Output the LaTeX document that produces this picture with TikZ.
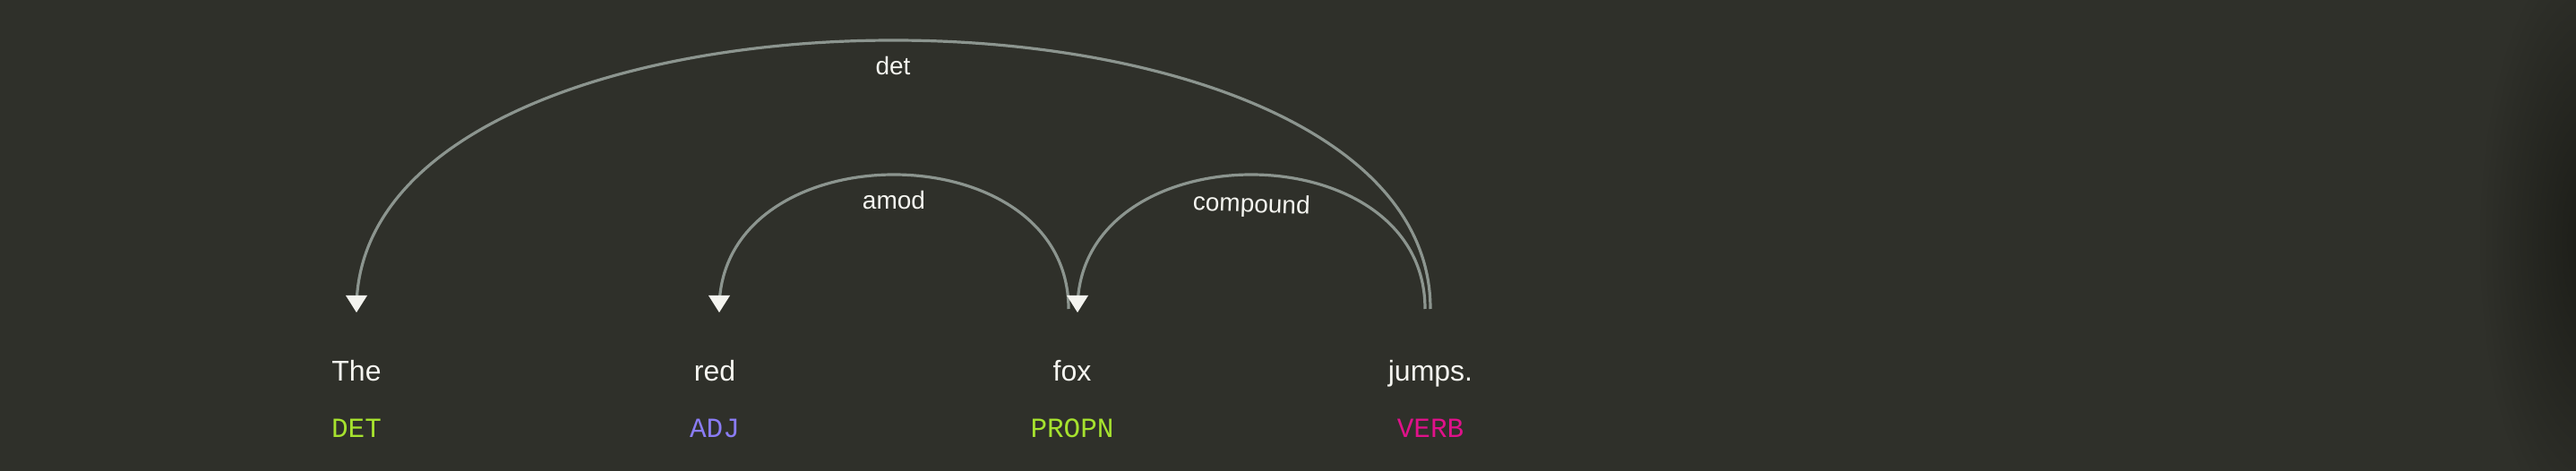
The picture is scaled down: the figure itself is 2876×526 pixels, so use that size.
\documentclass[tikz,border=0pt]{standalone}
\usepackage{fontspec}
\setmainfont{Liberation Sans}
\newfontfamily\tagfont{Liberation Mono}
\definecolor{bgcol}{HTML}{2F302A}
\definecolor{shadowcol}{HTML}{1B1C17}
\definecolor{arccol}{HTML}{8C958F}
\definecolor{headcol}{HTML}{F4F4EF}
\definecolor{wordcol}{HTML}{F5F5F0}
\definecolor{greencol}{HTML}{A6E22E}
\definecolor{purplecol}{HTML}{8A7CF4}
\definecolor{magentacol}{HTML}{E0118A}
\begin{document}
\begin{tikzpicture}[x=1pt,y=-1pt,
  wordtxt/.style={font=\fontsize{32}{38}\selectfont, text=wordcol, anchor=base, inner sep=0pt},
  tagtxt/.style={font=\tagfont\fontsize{31}{37}\selectfont, anchor=base, inner sep=0pt},
  arcline/.style={draw=arccol, line width=3.2pt},
  arrowhd/.style={fill=headcol},
  lbl/.style={font=\fontsize{28}{34}\selectfont, text=wordcol, anchor=base, inner sep=0pt}]
\fill[bgcol] (0,0) rectangle (2876,526);
\begin{scope}
  \clip (0,0) rectangle (2876,526);
  \shade[inner color=shadowcol, outer color=bgcol] (2895,270) ellipse [x radius=130, y radius=340];
\end{scope}
\useasboundingbox (0,0) rectangle (2876,526);

% words
\node[wordtxt] (w0) at (398,426) {The};
\node[wordtxt] (w1) at (798,426) {red};
\node[wordtxt] (w2) at (1197,426) {fox};
\node[wordtxt] (w3) at (1597,426) {jumps.};
% tags
\node[tagtxt, text=greencol] (t0) at (398,488) {DET};
\node[tagtxt, text=purplecol] (t1) at (798,488) {ADJ};
\node[tagtxt, text=greencol] (t2) at (1197,488) {PROPN};
\node[tagtxt, text=magentacol] (t3) at (1597,488) {VERB};

% arc end points
\coordinate (d0) at ([yshift=81pt]w0.base);
\coordinate (d1) at ([xshift=5pt,yshift=81pt]w1.base);
\coordinate (d2) at ([xshift=6pt,yshift=81pt]w2.base);
\coordinate (s2) at ([xshift=-4pt,yshift=81pt]w2.base);
\coordinate (s3a) at ([yshift=81pt]w3.base);
\coordinate (s3b) at ([xshift=-6pt,yshift=81pt]w3.base);

% arcs
\draw[arcline] (s3a) .. controls ([yshift=400pt]s3a) and ([yshift=400pt]d0) .. (d0);
\draw[arcline] (s2) .. controls ([yshift=200pt]s2) and ([yshift=200pt]d1) .. (d1);
\draw[arcline] (s3b) .. controls ([yshift=200pt]s3b) and ([yshift=200pt]d2) .. (d2);

% arrowheads
\foreach \p in {d0,d1,d2}{
  \fill[arrowhd] ([yshift=-4pt]\p) -- ([xshift=-12pt,yshift=15pt]\p) -- ([xshift=12pt,yshift=15pt]\p) -- cycle;
}

% labels
\node[lbl] (l0) at (997,84) {det};
\node[lbl] (l1) at (998,234) {amod};
\node[lbl, rotate=-2] (l2) at (1397,237) {compound};
\end{tikzpicture}
\end{document}
